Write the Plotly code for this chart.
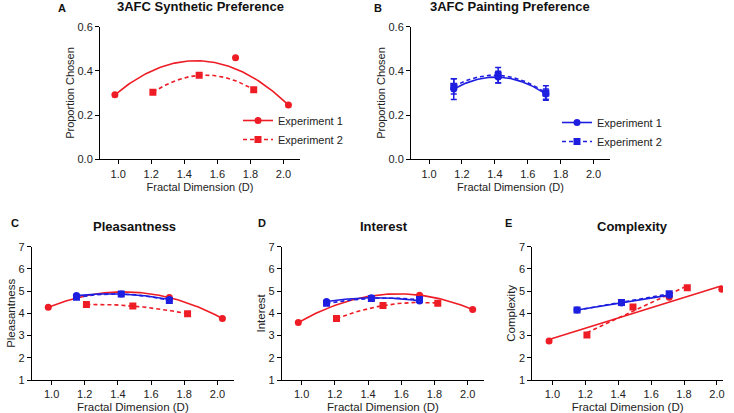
import numpy as np
import plotly.graph_objects as go

# ---------------- data ----------------
D_syn_exp1 = [0.98, 1.71, 2.03]      # synthetic fractals, Experiment 1
D_syn_exp2 = [1.21, 1.49, 1.82]      # synthetic fractals, Experiment 2
D_paint = [1.15, 1.42, 1.71]         # paintings

# A: 3AFC synthetic preference (proportion chosen)
A_exp1 = [0.292, 0.460, 0.246]
A_exp2 = [0.303, 0.380, 0.315]
# points read on the published quadratic fit for Experiment 1 in panel A
A_exp1_fit_D = [0.98, 1.47, 2.03]
A_exp1_fit_val = [0.292, 0.446, 0.246]

# B: 3AFC painting preference
B_exp1 = [0.318, 0.372, 0.295]
B_exp1_err = [0.047, 0.026, 0.023]
B_exp2 = [0.330, 0.380, 0.300]
B_exp2_err = [0.035, 0.035, 0.033]

# C: Pleasantness ratings
C_syn_exp1 = [4.27, 4.71, 3.77]
C_syn_exp2 = [4.40, 4.33, 3.98]
C_paint_exp1 = [4.80, 4.87, 4.62]
C_paint_exp2 = [4.72, 4.87, 4.58]

# D: Interest ratings
D_syn_exp1_v = [3.59, 4.82, 4.17]
D_syn_exp2_v = [3.77, 4.35, 4.46]
D_paint_exp1 = [4.53, 4.70, 4.56]
D_paint_exp2 = [4.45, 4.67, 4.62]

# E: Complexity ratings
E_syn_exp1 = [2.76, 4.72, 5.09]
E_syn_exp2 = [3.03, 4.29, 5.15]
E_paint_exp1 = [4.15, 4.47, 4.82]
E_paint_exp2 = [4.15, 4.49, 4.88]

x_ticks = [1.0, 1.2, 1.4, 1.6, 1.8, 2.0]
prop_ticks = [0.0, 0.2, 0.4, 0.6]
rating_ticks = [1, 2, 3, 4, 5, 6, 7]

panel_titles = ["3AFC Synthetic Preference", "3AFC Painting Preference",
                "Pleasantness", "Interest", "Complexity"]
panel_letters = ["A", "B", "C", "D", "E"]
y_titles = ["Proportion Chosen", "Proportion Chosen", "Pleasantness", "Interest", "Complexity"]
x_title = "Fractal Dimension (D)"
legend_names = ["Experiment 1", "Experiment 2"]

# ---------------- styling ----------------
RED = "#EE1C25"
BLUE = "#1E1EE0"
DASH = "4px,3px"
FONT = "Liberation Sans, Arial, sans-serif"
W, H = 734, 413


def fit_curve(xs, ys, deg):
    c = np.polyfit(xs, ys, deg)
    xx = np.linspace(min(xs), max(xs), 100)
    return xx, np.polyval(c, xx)


fig = go.Figure()


def add_series(ax, xs, ys, color, symbol, dash, deg, fit_xs=None, fit_ys=None, err=None):
    fx, fy = fit_curve(fit_xs if fit_xs is not None else xs,
                       fit_ys if fit_ys is not None else ys, deg)
    fig.add_trace(go.Scatter(x=fx, y=fy, mode="lines", xaxis="x" + ax, yaxis="y" + ax,
                             line=dict(color=color, width=1.6, dash=dash),
                             showlegend=False, hoverinfo="skip"))
    ey = None
    if err is not None:
        ey = dict(type="data", array=err, visible=True, color=color, thickness=1.5, width=3)
    fig.add_trace(go.Scatter(x=xs, y=ys, mode="markers", xaxis="x" + ax, yaxis="y" + ax,
                             marker=dict(color=color, symbol=symbol, size=7, line=dict(width=0)),
                             error_y=ey, showlegend=False))


# A
add_series("", D_syn_exp1, A_exp1, RED, "circle", "solid", 2, A_exp1_fit_D, A_exp1_fit_val)
add_series("", D_syn_exp2, A_exp2, RED, "square", DASH, 2)
# B
add_series("2", D_paint, B_exp1, BLUE, "circle", "solid", 2, err=B_exp1_err)
add_series("2", D_paint, B_exp2, BLUE, "square", DASH, 2, err=B_exp2_err)
# C
add_series("3", D_syn_exp1, C_syn_exp1, RED, "circle", "solid", 2)
add_series("3", D_syn_exp2, C_syn_exp2, RED, "square", DASH, 2)
add_series("3", D_paint, C_paint_exp1, BLUE, "circle", "solid", 2)
add_series("3", D_paint, C_paint_exp2, BLUE, "square", DASH, 2)
# D
add_series("4", D_syn_exp1, D_syn_exp1_v, RED, "circle", "solid", 2)
add_series("4", D_syn_exp2, D_syn_exp2_v, RED, "square", DASH, 2)
add_series("4", D_paint, D_paint_exp1, BLUE, "circle", "solid", 2)
add_series("4", D_paint, D_paint_exp2, BLUE, "square", DASH, 2)
# E (linear fits)
add_series("5", D_syn_exp1, E_syn_exp1, RED, "circle", "solid", 1)
add_series("5", D_syn_exp2, E_syn_exp2, RED, "square", DASH, 1)
add_series("5", D_paint, E_paint_exp1, BLUE, "circle", "solid", 1)
add_series("5", D_paint, E_paint_exp2, BLUE, "square", DASH, 1)

# legend entries
for leg, ax, color in [("legend", "", RED), ("legend2", "2", BLUE)]:
    for name, sym, dash in zip(legend_names, ["circle", "square"], ["solid", DASH]):
        fig.add_trace(go.Scatter(x=[None], y=[None], mode="lines+markers", name=name,
                                 xaxis="x" + ax, yaxis="y" + ax, legend=leg,
                                 line=dict(color=color, width=1.6, dash=dash),
                                 marker=dict(color=color, symbol=sym, size=7)))


def px_x(p):
    return p / W


def px_y(p):
    return 1 - p / H


axis_common = dict(showline=True, linecolor="black", linewidth=1, ticks="outside", ticklen=4,
                   tickwidth=1, tickcolor="black", showgrid=False, zeroline=False,
                   automargin=False, tickfont=dict(size=11, color="#222", family=FONT))

x_domains = [(100, 300), (411, 610), (31.7, 234), (281.7, 484.3), (532.3, 723)]
x_ranges = [(0.89, 2.1), (0.89, 2.1), (0.88, 2.1), (0.88, 2.1), (0.878, 2.037)]
y_domains = [(159.3, 26.7)] * 2 + [(380, 246.7)] * 3
y_ranges = [(0, 0.6)] * 2 + [(1, 7)] * 3

layout = dict(width=W, height=H, margin=dict(l=0, r=0, t=0, b=0, autoexpand=False),
              template="none", plot_bgcolor="white", paper_bgcolor="white",
              font=dict(family=FONT, color="#222"))

for i in range(5):
    sfx = "" if i == 0 else str(i + 1)
    xa = dict(axis_common)
    xa.update(domain=[px_x(x_domains[i][0]), px_x(x_domains[i][1])], range=list(x_ranges[i]),
              tickvals=x_ticks, tickformat=".1f", anchor="y" + sfx,
              title=dict(text=x_title, font=dict(size=11.5 if i > 1 else 11, family=FONT, color="#222"),
                         standoff=4))
    ya = dict(axis_common)
    ya.update(domain=[px_y(y_domains[i][0]), px_y(y_domains[i][1])], range=list(y_ranges[i]),
              tickvals=prop_ticks if i < 2 else rating_ticks,
              tickformat=".1f" if i < 2 else "d", anchor="x" + sfx,
              title=dict(text=y_titles[i], font=dict(size=11.5 if i > 1 else 11, family=FONT, color="#222"),
                         standoff=0))
    layout["xaxis" + sfx] = xa
    layout["yaxis" + sfx] = ya

layout["legend"] = dict(x=px_x(238), y=px_y(106), xanchor="left", yanchor="top",
                        bgcolor="rgba(0,0,0,0)", font=dict(size=11, family=FONT, color="#222"),
                        itemwidth=30, tracegroupgap=0)
layout["legend2"] = dict(x=px_x(557), y=px_y(108), xanchor="left", yanchor="top",
                         bgcolor="rgba(0,0,0,0)", font=dict(size=11, family=FONT, color="#222"),
                         itemwidth=30, tracegroupgap=0)

title_pos = [(200.5, 7), (510, 7), (134, 226), (384, 226), (632.5, 226)]
letter_pos = [(62.5, 8), (377.5, 8), (15, 223), (261.7, 223), (508.3, 223)]
annotations = []
for i in range(5):
    annotations.append(dict(text="<b>%s</b>" % panel_titles[i], x=px_x(title_pos[i][0]),
                            y=px_y(title_pos[i][1]), xref="paper", yref="paper", showarrow=False,
                            xanchor="center", yanchor="middle",
                            font=dict(size=13, family=FONT, color="#111")))
    annotations.append(dict(text="<b>%s</b>" % panel_letters[i], x=px_x(letter_pos[i][0]),
                            y=px_y(letter_pos[i][1]), xref="paper", yref="paper", showarrow=False,
                            xanchor="center", yanchor="middle",
                            font=dict(size=11, family=FONT, color="#111")))
layout["annotations"] = annotations

fig.update_layout(**layout)
fig.write_html("out.html", config={"displayModeBar": False},
               post_script="document.body.style.margin='0';document.body.style.overflow='hidden';")
